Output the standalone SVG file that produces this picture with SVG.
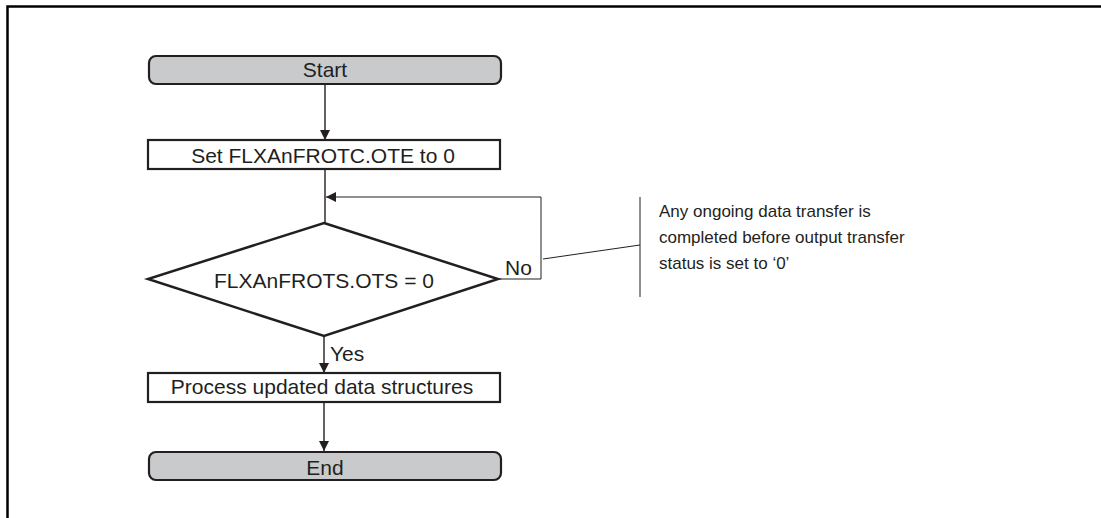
<svg xmlns="http://www.w3.org/2000/svg" width="1101" height="518" viewBox="0 0 1101 518">
<style>
.t{font-family:"Liberation Sans",Arial,sans-serif;font-size:21px;fill:#231f20}
.a{font-family:"Liberation Sans",Arial,sans-serif;font-size:17px;fill:#231f20}
.term{fill:#c9cacb;stroke:#231f20;stroke-width:2.2}
.proc{fill:#fff;stroke:#231f20;stroke-width:2.2}
.c{fill:none;stroke:#231f20;stroke-width:1.4}
.thin{fill:none;stroke:#231f20;stroke-width:1}
</style>
<defs>
<marker id="ah" viewBox="0 0 10 10" refX="10" refY="5" markerWidth="10" markerHeight="10" markerUnits="userSpaceOnUse" orient="auto">
<path d="M0,0 L10,5 L0,10 Z" fill="#231f20"/>
</marker>
</defs>
<rect width="1101" height="518" fill="#fff"/>
<path d="M7.5,518 V6.5 H1101" fill="none" stroke="#000" stroke-width="2.5"/>
<g id="connectors">
<line class="c" x1="325" y1="85" x2="325" y2="140" marker-end="url(#ah)"/>
<line class="c" x1="325" y1="169" x2="325" y2="223"/>
<polyline class="thin" points="498,279 541,279 541,197 326,197" marker-end="url(#ah)"/>
<line class="c" x1="324" y1="336" x2="324" y2="373" marker-end="url(#ah)"/>
<line class="c" x1="324" y1="402" x2="324" y2="451" marker-end="url(#ah)"/>
<line class="thin" x1="543" y1="259" x2="640" y2="245"/>
<line class="thin" x1="640" y1="197" x2="640" y2="297"/>
</g>
<g id="start">
<rect class="term" x="149" y="56" width="352" height="28" rx="7"/>
<text class="t" x="325" y="77" text-anchor="middle">Start</text>
</g>
<g id="set">
<rect class="proc" x="148" y="140" width="352" height="29"/>
<text class="t" x="323" y="163" text-anchor="middle">Set FLXAnFROTC.OTE to 0</text>
</g>
<g id="decision">
<polygon points="324,223 498,279 324,336 148,279" fill="#fff" stroke="#231f20" stroke-width="2.5"/>
<text class="t" x="324" y="288" text-anchor="middle">FLXAnFROTS.OTS = 0</text>
<text class="t" x="505" y="275">No</text>
<text class="t" x="330" y="361">Yes</text>
</g>
<g id="note">
<text class="a" x="659" y="217">Any ongoing data transfer is</text>
<text class="a" x="659" y="243">completed before output transfer</text>
<text class="a" x="659" y="269">status is set to ‘0’</text>
</g>
<g id="process">
<rect class="proc" x="148" y="373" width="352" height="29"/>
<text class="t" x="322" y="394" text-anchor="middle">Process updated data structures</text>
</g>
<g id="end">
<rect class="term" x="149" y="452" width="352" height="28" rx="7"/>
<text class="t" x="325" y="475" text-anchor="middle">End</text>
</g>
</svg>
